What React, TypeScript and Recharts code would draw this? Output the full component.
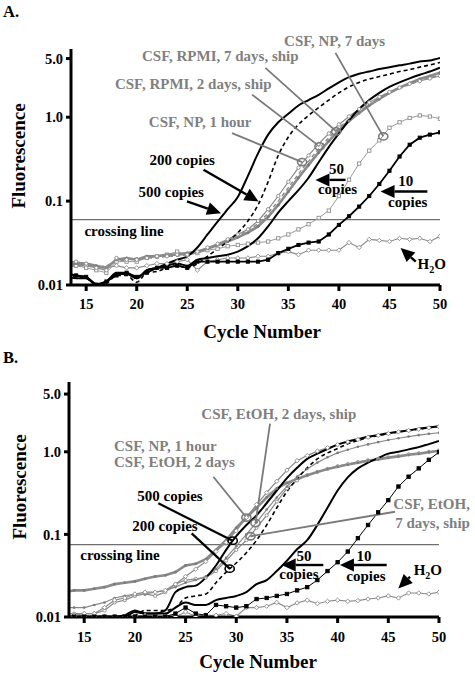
import React from 'react';
import { LineChart, Line, XAxis, YAxis, ReferenceLine, ReferenceDot } from 'recharts';

// qPCR amplification curves, log fluorescence vs. cycle (panels A and B)

const SERIF = '"Liberation Serif", "Times New Roman", serif';
const INK = '#000000';
const GREY = '#8a8a8a';
const GREY_TEXT = '#7f7f7f';
const CROSS = '#6f6f6f';

const CYCLES = [
  13, 14, 15, 16, 17, 18, 19, 20, 21, 22,
  23, 24, 25, 26, 27, 28, 29, 30, 31, 32,
  33, 34, 35, 36, 37, 38, 39, 40, 41, 42,
  43, 44, 45, 46, 47, 48, 49, 50,
];
const X_TICKS = [15, 20, 25, 30, 35, 40, 45, 50];
const Y_TICKS = [0.01, 0.1, 1, 5];

// ---- panel A ----
const A_500 = [
  0.014, 0.013, 0.0125, 0.0102, 0.011, 0.014, 0.014, 0.012, 0.015, 0.016,
  0.018, 0.02, 0.022, 0.028, 0.04, 0.057, 0.08, 0.112, 0.2, 0.37,
  0.62, 0.87, 1.1, 1.38, 1.6, 1.85, 2.2, 2.6, 3.0, 3.3,
  3.5, 3.75, 3.95, 4.15, 4.35, 4.6, 4.75, 5.1,
];
const A_200 = [
  0.013, 0.0125, 0.012, 0.0101, 0.0105, 0.013, 0.013, 0.0108, 0.014, 0.0145,
  0.016, 0.017, 0.016, 0.018, 0.022, 0.027, 0.033, 0.042, 0.058, 0.09,
  0.17, 0.35, 0.58, 0.82, 1.05, 1.3, 1.6, 1.95, 2.3, 2.6,
  2.85, 3.05, 3.25, 3.5, 3.7, 3.95, 4.2, 4.5,
];
const A_50 = [
  0.0125, 0.012, 0.012, 0.0101, 0.011, 0.0135, 0.0135, 0.012, 0.015, 0.016,
  0.017, 0.018, 0.017, 0.02, 0.021, 0.022, 0.023, 0.025, 0.029, 0.036,
  0.05, 0.073, 0.1, 0.135, 0.19, 0.29, 0.44, 0.64, 0.92, 1.25,
  1.6, 1.95, 2.3, 2.6, 2.9, 3.2, 3.5, 3.9,
];
const A_10 = [
  0.0135, 0.013, 0.0125, 0.0101, 0.011, 0.013, 0.014, 0.0125, 0.014, 0.016,
  0.016, 0.017, 0.016, 0.019, 0.019, 0.019, 0.019, 0.019, 0.019, 0.019,
  0.02, 0.024, 0.027, 0.03, 0.032, 0.033, 0.04, 0.052, 0.066, 0.086,
  0.115, 0.16, 0.23, 0.34, 0.47, 0.57, 0.62, 0.66,
];
const A_NP_1H = [
  0.019, 0.019, 0.018, 0.016, 0.015, 0.021, 0.02, 0.02, 0.021, 0.022,
  0.022, 0.023, 0.023, 0.025, 0.028, 0.031, 0.035, 0.04, 0.046, 0.058,
  0.08, 0.115, 0.17, 0.25, 0.35, 0.48, 0.64, 0.82, 1.02, 1.25,
  1.5, 1.75, 2.0, 2.25, 2.5, 2.7, 2.9, 3.1,
];
const A_RPMI_2D = [
  0.016, 0.017, 0.017, 0.016, 0.017, 0.019, 0.02, 0.021, 0.021, 0.021,
  0.022, 0.022, 0.023, 0.024, 0.027, 0.03, 0.034, 0.039, 0.044, 0.054,
  0.072, 0.1, 0.145, 0.21, 0.3, 0.42, 0.57, 0.75, 0.95, 1.18,
  1.42, 1.68, 1.95, 2.2, 2.45, 2.7, 2.95, 3.2,
];
const A_RPMI_7D = [
  0.018, 0.018, 0.018, 0.017, 0.016, 0.02, 0.021, 0.02, 0.022, 0.022,
  0.023, 0.023, 0.024, 0.025, 0.027, 0.03, 0.033, 0.037, 0.042, 0.05,
  0.065, 0.09, 0.13, 0.19, 0.27, 0.38, 0.52, 0.7, 0.9, 1.12,
  1.38, 1.65, 1.95, 2.25, 2.55, 2.85, 3.1, 3.4,
];
const A_NP_7D = [
  0.016, 0.017, 0.016, 0.015, 0.014, 0.019, 0.019, 0.019, 0.021, 0.022,
  0.023, 0.025, 0.023, 0.024, 0.026, 0.027, 0.029, 0.03, 0.031, 0.032,
  0.033, 0.036, 0.04, 0.046, 0.053, 0.063, 0.077, 0.115, 0.18, 0.28,
  0.4, 0.53, 0.75, 0.87, 0.98, 1.05, 1.02, 0.96,
];
const A_H2O = [
  0.018, 0.017, 0.017, 0.016, 0.016, 0.017, 0.016, 0.016, 0.017, 0.018,
  0.018, 0.019, 0.02, 0.015, 0.019, 0.02, 0.021, 0.021, 0.021, 0.022,
  0.022, 0.024, 0.025, 0.023, 0.026, 0.026, 0.026, 0.026, 0.032, 0.028,
  0.035, 0.034, 0.033, 0.036, 0.035, 0.036, 0.033, 0.038,
];

// ---- panel B ----
const B_500 = [
  0.0101, 0.0101, 0.0101, 0.0101, 0.0101, 0.0101, 0.0105, 0.012, 0.011, 0.011,
  0.012, 0.02, 0.023, 0.024, 0.03, 0.042, 0.065, 0.095, 0.13, 0.17,
  0.24, 0.34, 0.48, 0.64, 0.82, 0.95, 1.08, 1.22, 1.33, 1.42,
  1.52, 1.6, 1.68, 1.75, 1.82, 1.9, 1.97, 2.04,
];
const B_200 = [
  0.0101, 0.0101, 0.0101, 0.0101, 0.0101, 0.0101, 0.0101, 0.0105, 0.012, 0.012,
  0.012, 0.013, 0.017, 0.018, 0.019, 0.026, 0.035, 0.045, 0.06, 0.085,
  0.13, 0.21, 0.33, 0.47, 0.64, 0.82, 0.97, 1.1, 1.25, 1.37,
  1.48, 1.57, 1.65, 1.73, 1.8, 1.88, 1.96, 2.03,
];
const B_50 = [
  0.0101, 0.0101, 0.0101, 0.0101, 0.0101, 0.0101, 0.0101, 0.0115, 0.011, 0.011,
  0.011, 0.013, 0.015, 0.014, 0.014, 0.016, 0.017, 0.018, 0.02, 0.025,
  0.028, 0.036, 0.048, 0.066, 0.085, 0.13, 0.21, 0.34, 0.49, 0.63,
  0.74, 0.84, 0.95, 1.0, 1.07, 1.14, 1.24, 1.35,
];
const B_10 = [
  0.0101, 0.0101, 0.0101, 0.0101, 0.0101, 0.0101, 0.0101, 0.0101, 0.0101, 0.0101,
  0.0101, 0.011, 0.013, 0.011, 0.0105, 0.014, 0.0135, 0.013, 0.0135, 0.0165,
  0.017, 0.018, 0.019, 0.021, 0.023, 0.028, 0.036, 0.046, 0.062, 0.09,
  0.13, 0.185, 0.26, 0.38, 0.5, 0.63, 0.8, 0.99,
];
const B_NP_1H = [
  0.0105, 0.0105, 0.011, 0.011, 0.013, 0.016, 0.017, 0.019, 0.02, 0.02,
  0.021, 0.025, 0.031, 0.038, 0.047, 0.062, 0.08, 0.11, 0.16, 0.23,
  0.32, 0.44, 0.6, 0.78, 0.9, 1.02, 1.12, 1.22, 1.32, 1.41,
  1.5, 1.58, 1.66, 1.74, 1.81, 1.88, 1.95, 2.02,
];
const B_ETOH_2D = [
  0.02, 0.021, 0.021, 0.022, 0.023, 0.025, 0.026, 0.027, 0.029, 0.031,
  0.032, 0.035, 0.042, 0.044, 0.05, 0.065, 0.085, 0.12, 0.16, 0.21,
  0.28, 0.36, 0.42, 0.47, 0.52, 0.57, 0.62, 0.66, 0.7, 0.74,
  0.78, 0.81, 0.85, 0.88, 0.92, 0.95, 0.99, 1.03,
];
const B_ETOH_2D_SHIP = [
  0.013, 0.013, 0.013, 0.014, 0.015, 0.017, 0.018, 0.019, 0.019, 0.02,
  0.021, 0.023, 0.026, 0.028, 0.031, 0.038, 0.052, 0.072, 0.1, 0.14,
  0.2, 0.28, 0.38, 0.5, 0.62, 0.74, 0.86, 0.97, 1.06, 1.15,
  1.23, 1.31, 1.39, 1.46, 1.53, 1.59, 1.65, 1.7,
];
const B_ETOH_7D_SHIP = [
  0.011, 0.011, 0.011, 0.011, 0.012, 0.015, 0.016, 0.018, 0.019, 0.018,
  0.02, 0.025, 0.028, 0.029, 0.03, 0.036, 0.048, 0.065, 0.085, 0.12,
  0.17, 0.25, 0.36, 0.45, 0.52, 0.57, 0.62, 0.67, 0.71, 0.75,
  0.79, 0.82, 0.86, 0.89, 0.93, 0.96, 1.0, 1.04,
];
const B_H2O = [
  0.0101, 0.0101, 0.0101, 0.0101, 0.0101, 0.0101, 0.0101, 0.0101, 0.0105, 0.0101,
  0.0101, 0.0101, 0.0115, 0.0102, 0.0105, 0.0105, 0.011, 0.0102, 0.013, 0.013,
  0.0135, 0.015, 0.013, 0.0148, 0.016, 0.0145, 0.0155, 0.016, 0.0155, 0.0158,
  0.0165, 0.017, 0.018, 0.017, 0.0195, 0.0195, 0.019, 0.02,
];

// ---- marker shapes ----
type DotProps = { cx?: number; cy?: number; index?: number };
const square = (fill: string, stroke: string, s: number) => (p: DotProps) => (
  <rect key={p.index} x={(p.cx ?? 0) - s / 2} y={(p.cy ?? 0) - s / 2} width={s} height={s}
    fill={fill} stroke={stroke} strokeWidth={0.9} />
);
const diamond = (stroke: string, s: number) => (p: DotProps) => {
  const x = p.cx ?? 0, y = p.cy ?? 0;
  return <polygon key={p.index} points={`${x},${y - s} ${x + s},${y} ${x},${y + s} ${x - s},${y}`}
    fill="#fff" stroke={stroke} strokeWidth={0.9} />;
};
const ring = (stroke: string, r: number) => (p: DotProps) => (
  <circle key={p.index} cx={p.cx} cy={p.cy} r={r} fill="#fff" stroke={stroke} strokeWidth={0.9} />
);
const bead = (fill: string, r: number) => (p: DotProps) => (
  <circle key={p.index} cx={p.cx} cy={p.cy} r={r} fill={fill} />
);

type Series = {
  key: string; data: number[]; stroke: string; width: number;
  dash?: string; curve: 'linear' | 'monotone'; dot?: (p: DotProps) => React.ReactElement;
};

const SERIES_A: Series[] = [
  { key: 'h2o', data: A_H2O, stroke: GREY, width: 1.1, curve: 'linear', dot: diamond(GREY, 2.2) },
  { key: 'np7', data: A_NP_7D, stroke: '#9a9a9a', width: 1, curve: 'linear', dot: square('#fff', '#8f8f8f', 3.3) },
  { key: 'rpmi7', data: A_RPMI_7D, stroke: GREY, width: 2.6, curve: 'linear', dot: bead('#7a7a7a', 1.5) },
  { key: 'rpmi2', data: A_RPMI_2D, stroke: GREY, width: 1.4, dash: '4 3', curve: 'linear' },
  { key: 'np1h', data: A_NP_1H, stroke: GREY, width: 1.2, curve: 'linear', dot: ring(GREY, 1.7) },
  { key: 'c10', data: A_10, stroke: INK, width: 1.8, curve: 'linear', dot: square(INK, INK, 3.2) },
  { key: 'c50', data: A_50, stroke: INK, width: 2, curve: 'monotone' },
  { key: 'c200', data: A_200, stroke: INK, width: 1.6, dash: '4 3', curve: 'monotone' },
  { key: 'c500', data: A_500, stroke: INK, width: 2, curve: 'monotone' },
];

const SERIES_B: Series[] = [
  { key: 'h2o', data: B_H2O, stroke: GREY, width: 1.1, curve: 'linear', dot: diamond(GREY, 2.2) },
  { key: 'etoh7s', data: B_ETOH_7D_SHIP, stroke: GREY, width: 1.2, curve: 'linear', dot: ring(GREY, 1.6) },
  { key: 'etoh2s', data: B_ETOH_2D_SHIP, stroke: GREY, width: 1.2, curve: 'linear', dot: bead('#7a7a7a', 1.3) },
  { key: 'etoh2', data: B_ETOH_2D, stroke: GREY, width: 2.6, curve: 'linear', dot: bead('#7a7a7a', 1.4) },
  { key: 'np1h', data: B_NP_1H, stroke: GREY, width: 1.2, curve: 'linear', dot: diamond(GREY, 2.2) },
  { key: 'c10', data: B_10, stroke: INK, width: 1, curve: 'linear', dot: square(INK, INK, 3.4) },
  { key: 'c50', data: B_50, stroke: INK, width: 2, curve: 'monotone' },
  { key: 'c200', data: B_200, stroke: INK, width: 1.6, dash: '4 3', curve: 'monotone' },
  { key: 'c500', data: B_500, stroke: INK, width: 2, curve: 'monotone' },
];

// ---- annotations, in (cycle, fluorescence) ----
type Pt = { x: number; y: number };
type Note = Pt & { text: string; ink?: boolean; anchor?: 'start' | 'middle' | 'end' };
type Pointer = { from: Pt; to: Pt; ink?: boolean };

const NOTES_A: Note[] = [
  { x: 39.57, y: 8.19, text: 'CSF, NP, 7 days' },
  { x: 28.27, y: 5.35, text: 'CSF, RPMI, 7 days, ship' },
  { x: 25.59, y: 2.51, text: 'CSF, RPMI, 2 days, ship' },
  { x: 26.28, y: 0.871, text: 'CSF, NP, 1 hour' },
  { x: 24.5, y: 0.311, text: '200 copies', ink: true },
  { x: 23.41, y: 0.131, text: '500 copies', ink: true },
  { x: 39.76, y: 0.243, text: '50', ink: true },
  { x: 39.86, y: 0.14, text: 'copies', ink: true },
  { x: 46.6, y: 0.174, text: '10', ink: true },
  { x: 46.8, y: 0.098, text: 'copies', ink: true },
  { x: 18.75, y: 0.0441, text: 'crossing line', ink: true },
  { x: 49.18, y: 0.0178, text: 'H2O', ink: true },
];
const POINTERS_A: Pointer[] = [
  { from: { x: 39.66, y: 5.84 }, to: { x: 44.39, y: 0.59 } },
  { from: { x: 32.73, y: 3.87 }, to: { x: 39.73, y: 0.677 } },
  { from: { x: 31.41, y: 1.86 }, to: { x: 38.08, y: 0.449 } },
  { from: { x: 29.43, y: 0.647 }, to: { x: 36.36, y: 0.292 } },
];
const ARROWS_A: Pointer[] = [
  { from: { x: 26.61, y: 0.236 }, to: { x: 32.06, y: 0.099 } },
  { from: { x: 24.97, y: 0.099 }, to: { x: 28.34, y: 0.0718 } },
  { from: { x: 40.66, y: 0.179 }, to: { x: 37.68, y: 0.179 } },
  { from: { x: 48.75, y: 0.13 }, to: { x: 44.12, y: 0.13 } },
  { from: { x: 47.6, y: 0.019 }, to: { x: 46.1, y: 0.0277 } },
];

const NOTES_B: Note[] = [
  { x: 34.2, y: 2.86, text: 'CSF, EtOH, 2 days, ship' },
  { x: 17.94, y: 1.17, text: 'CSF, NP, 1 hour', anchor: 'start' },
  { x: 17.94, y: 0.75, text: 'CSF, EtOH, 2 days', anchor: 'start' },
  { x: 53.05, y: 0.233, text: 'CSF, EtOH,', anchor: 'end' },
  { x: 53.05, y: 0.137, text: '7 days, ship', anchor: 'end' },
  { x: 23.46, y: 0.291, text: '500 copies', ink: true },
  { x: 22.97, y: 0.126, text: '200 copies', ink: true },
  { x: 18.53, y: 0.0562, text: 'crossing line', ink: true },
  { x: 36.68, y: 0.0547, text: '50', ink: true },
  { x: 36.18, y: 0.0331, text: 'copies', ink: true },
  { x: 42.6, y: 0.0547, text: '10', ink: true },
  { x: 42.79, y: 0.0313, text: 'copies', ink: true },
  { x: 48.9, y: 0.037, text: 'H2O', ink: true },
];
const POINTERS_B: Pointer[] = [
  { from: { x: 33.33, y: 2.2 }, to: { x: 31.9, y: 0.137 } },
  { from: { x: 27.74, y: 0.499 }, to: { x: 31.0, y: 0.16 } },
  { from: { x: 45.66, y: 0.188 }, to: { x: 31.4, y: 0.095 } },
  { from: { x: 22.31, y: 0.238 }, to: { x: 29.65, y: 0.084 }, ink: true },
  { from: { x: 25.6, y: 0.103 }, to: { x: 29.35, y: 0.0385 }, ink: true },
];
const ARROWS_B: Pointer[] = [
  { from: { x: 38.59, y: 0.0426 }, to: { x: 34.48, y: 0.0426 } },
  { from: { x: 44.84, y: 0.0426 }, to: { x: 40.23, y: 0.0426 } },
  { from: { x: 47.14, y: 0.0307 }, to: { x: 45.99, y: 0.0222 } },
];

const TICK = { fill: INK, fontSize: 14.5, fontFamily: SERIF, fontWeight: 'bold' };
const fmtY = (v: number) => (v < 1 ? String(v) : v.toFixed(1));

const noteShape = (n: Note) => (p: any) => (
  <text x={p.cx} y={p.cy} dy="0.35em" textAnchor={n.anchor ?? 'middle'} fontFamily={SERIF}
    fontWeight="bold" fontSize={15} fill={n.ink ? INK : GREY_TEXT}>
    {n.text === 'H2O' ? (
      <>
        <tspan>H</tspan>
        <tspan fontSize={10} dy={4}>2</tspan>
        <tspan dy={-4}>O</tspan>
      </>
    ) : n.text}
  </text>
);

const ringShape = (ink?: boolean) => (p: any) => (
  <ellipse cx={p.cx} cy={p.cy} rx={4.6} ry={3.6} fill="none"
    stroke={ink ? INK : '#7a7a7a'} strokeWidth={1.6} />
);

const arrowShape = (p: any) => {
  const { x1, y1, x2, y2 } = p;
  const a = Math.atan2(y2 - y1, x2 - x1);
  const len = 14;
  const half = 6.5;
  const bx = x2 - len * Math.cos(a);
  const by = y2 - len * Math.sin(a);
  const nx = -Math.sin(a) * half;
  const ny = Math.cos(a) * half;
  return (
    <g>
      <line x1={x1} y1={y1} x2={bx} y2={by} stroke={INK} strokeWidth={2.4} />
      <polygon points={`${x2},${y2} ${bx + nx},${by + ny} ${bx - nx},${by - ny}`} fill={INK} />
    </g>
  );
};

type PanelProps = {
  top: number; height: number; marginTop: number; marginRight: number;
  yWidth: number; xHeight: number; yMax: number; crossing: number; labelGap: number;
  series: Series[]; notes: Note[]; pointers: Pointer[]; arrows: Pointer[];
};

function Panel(props: PanelProps) {
  const { series } = props;
  const rows = CYCLES.map((c, i) => {
    const r: Record<string, number> = { cycle: c };
    series.forEach((s) => { r[s.key] = s.data[i]; });
    return r;
  });
  const axisStroke = { stroke: INK, strokeWidth: 3 };

  return (
    <div style={{ position: 'absolute', left: 0, top: props.top }}>
      <LineChart width={475} height={props.height} data={rows}
        margin={{ top: props.marginTop, right: props.marginRight, bottom: 0, left: 0 }}>
        <XAxis dataKey="cycle" type="number" domain={[13.5, 50]} allowDataOverflow ticks={X_TICKS}
          interval={0} height={props.xHeight} tickSize={6} tickMargin={props.labelGap}
          axisLine={axisStroke} tickLine={axisStroke} tick={TICK} />
        <YAxis type="number" scale="log" domain={[0.01, props.yMax]} allowDataOverflow ticks={Y_TICKS}
          interval={0} width={props.yWidth} tickSize={5} tickMargin={3} tickFormatter={fmtY}
          axisLine={axisStroke} tickLine={axisStroke} tick={TICK} />
        <ReferenceLine y={props.crossing} stroke={CROSS} strokeWidth={1.2} />
        {series.map((s) => (
          <Line key={s.key} dataKey={s.key} type={s.curve} stroke={s.stroke} strokeWidth={s.width}
            strokeDasharray={s.dash} dot={s.dot ?? false} activeDot={false} isAnimationActive={false} />
        ))}
        {props.pointers.map((p, i) => (
          <ReferenceLine key={`p${i}`} segment={[p.from, p.to]} ifOverflow="visible"
            stroke={p.ink ? INK : '#7a7a7a'} strokeWidth={p.ink ? 2.2 : 1.8} />
        ))}
        {props.pointers.map((p, i) => (
          <ReferenceDot key={`r${i}`} x={p.to.x} y={p.to.y} r={4} ifOverflow="visible"
            shape={ringShape(p.ink)} />
        ))}
        {props.arrows.map((p, i) => (
          <ReferenceLine key={`a${i}`} segment={[p.from, p.to]} ifOverflow="visible" shape={arrowShape} />
        ))}
        {props.notes.map((n, i) => (
          <ReferenceDot key={`n${i}`} x={n.x} y={n.y} r={0} ifOverflow="visible" shape={noteShape(n)} />
        ))}
      </LineChart>
    </div>
  );
}

const TITLE = { fontFamily: SERIF, fontWeight: 'bold' as const, fill: INK };

export default function App() {
  return (
    <div style={{ position: 'absolute', left: 0, top: 0, width: 475, height: 677, background: '#fff' }}>
      <Panel top={0} height={340} marginTop={49} marginRight={35} yWidth={71} xHeight={55}
        yMax={6.5} crossing={0.06} labelGap={8}
        series={SERIES_A} notes={NOTES_A} pointers={POINTERS_A} arrows={ARROWS_A} />
      <Panel top={340} height={337} marginTop={42} marginRight={36} yWidth={69} xHeight={60}
        yMax={7} crossing={0.075} labelGap={9}
        series={SERIES_B} notes={NOTES_B} pointers={POINTERS_B} arrows={ARROWS_B} />
      <svg width={475} height={677} style={{ position: 'absolute', left: 0, top: 0, pointerEvents: 'none' }}>
        <text x={3} y={17} fontSize={16.5} {...TITLE}>A.</text>
        <text x={3} y={363} fontSize={16.5} {...TITLE}>B.</text>
        <text transform="translate(25,156) rotate(-90)" textAnchor="middle" fontSize={19} {...TITLE}>Fluorescence</text>
        <text transform="translate(26,487) rotate(-90)" textAnchor="middle" fontSize={19} {...TITLE}>Fluorescence</text>
        <text x={262} y={338} textAnchor="middle" fontSize={19} {...TITLE}>Cycle Number</text>
        <text x={258} y={668} textAnchor="middle" fontSize={19} {...TITLE}>Cycle Number</text>
      </svg>
    </div>
  );
}
